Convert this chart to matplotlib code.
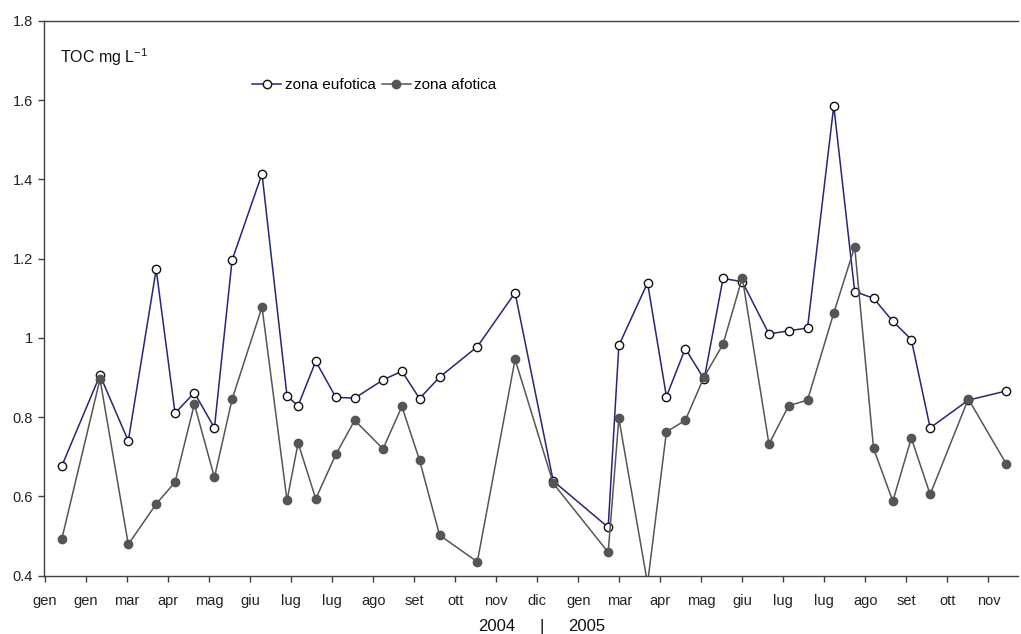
import matplotlib
matplotlib.use("Agg")
import matplotlib.pyplot as plt

# month tick labels (one per tick, evenly spaced)
months = ['gen', 'gen', 'mar', 'apr', 'mag', 'giu', 'lug', 'lug', 'ago', 'set', 'ott', 'nov',
          'dic', 'gen', 'mar', 'apr', 'mag', 'giu', 'lug', 'lug', 'ago', 'set', 'ott', 'nov']

# sampling positions, in tick units
x = [0.41, 1.34, 2.03, 2.71, 3.17, 3.64, 4.13, 4.56, 5.29, 5.90,
     6.17, 6.60, 7.09, 7.55, 8.24, 8.70, 9.13, 9.62, 10.54, 11.46,
     12.39, 13.73, 13.99, 14.69, 15.15, 15.61, 16.07, 16.53, 17.00, 17.65,
     18.13, 18.59, 19.23, 19.74, 20.20, 20.67, 21.12, 21.58, 22.51, 23.43]

eufotica = [0.677, 0.906, 0.740, 1.173, 0.810, 0.862, 0.773, 1.196, 1.414, 0.853,
            0.829, 0.941, 0.850, 0.848, 0.894, 0.916, 0.847, 0.901, 0.978, 1.114,
            0.639, 0.522, 0.981, 1.139, 0.852, 0.973, 0.896, 1.150, 1.142, 1.010,
            1.018, 1.025, 1.586, 1.117, 1.100, 1.042, 0.996, 0.773, 0.843, 0.866]

afotica = [0.493, 0.896, 0.479, 0.581, 0.636, 0.833, 0.648, 0.845, 1.078, 0.590,
           0.735, 0.594, 0.706, 0.792, 0.720, 0.827, 0.692, 0.502, 0.435, 0.946,
           0.633, 0.459, 0.797, 0.380, 0.763, 0.792, 0.902, 0.984, 1.152, 0.732,
           0.829, 0.843, 1.063, 1.230, 0.721, 0.588, 0.747, 0.605, 0.846, 0.683]

yticks = [0.4, 0.6, 0.8, 1.0, 1.2, 1.4, 1.6, 1.8]
ylabels = ['0.4', '0.6', '0.8', '1', '1.2', '1.4', '1.6', '1.8']

plt.rcParams['font.family'] = ['Liberation Sans', 'DejaVu Sans']
plt.rcParams['mathtext.fontset'] = 'custom'
plt.rcParams['mathtext.rm'] = 'Liberation Sans'
plt.rcParams['axes.unicode_minus'] = False

fig = plt.figure(figsize=(10.21, 6.34), dpi=100)
ax = fig.add_axes([0.0431, 0.092, 0.9539, 0.875])

ax.plot(x, eufotica, color='#25257d', lw=1.1, marker='o', ms=6,
        mfc='white', mec='#111111', mew=1.0, label='zona eufotica', zorder=3)
ax.plot(x, afotica, color='#555555', lw=1.1, marker='o', ms=6,
        mfc='#555555', mec='#555555', label='zona afotica', zorder=4)

ax.set_xlim(-0.025, 23.72)
ax.set_ylim(0.4, 1.8)
ax.set_xticks(range(len(months)))
ax.set_xticklabels(months)
ax.set_yticks(yticks)
ax.set_yticklabels(ylabels)

for s in ['left', 'bottom', 'top']:
    ax.spines[s].set_color('#404040')
    ax.spines[s].set_linewidth(1.0)
ax.spines['right'].set_visible(False)
ax.tick_params(axis='both', direction='out', length=4, width=1.0, color='#404040',
               labelsize=10.5, labelcolor='#222222')
ax.tick_params(axis='x', pad=9)
ax.tick_params(axis='y', pad=4)

ax.text(0.016, 0.935, 'TOC mg L$^{\\mathregular{-1}}$', transform=ax.transAxes, fontsize=11.5,
        va='center', ha='left', color='#111111')

ax.legend(loc='center', bbox_to_anchor=(0.339, 0.884), ncol=2, frameon=False,
          fontsize=11, handlelength=1.9, handletextpad=0.2, columnspacing=0.4,
          borderaxespad=0)

fig.text(0.4865, 0.0126, '2004', ha='center', va='center', fontsize=12, color='#111111')
fig.text(0.531, 0.0126, '|', ha='center', va='center', fontsize=12, color='#111111')
fig.text(0.575, 0.0126, '2005', ha='center', va='center', fontsize=12, color='#111111')

fig.savefig('out.png', dpi=100)
